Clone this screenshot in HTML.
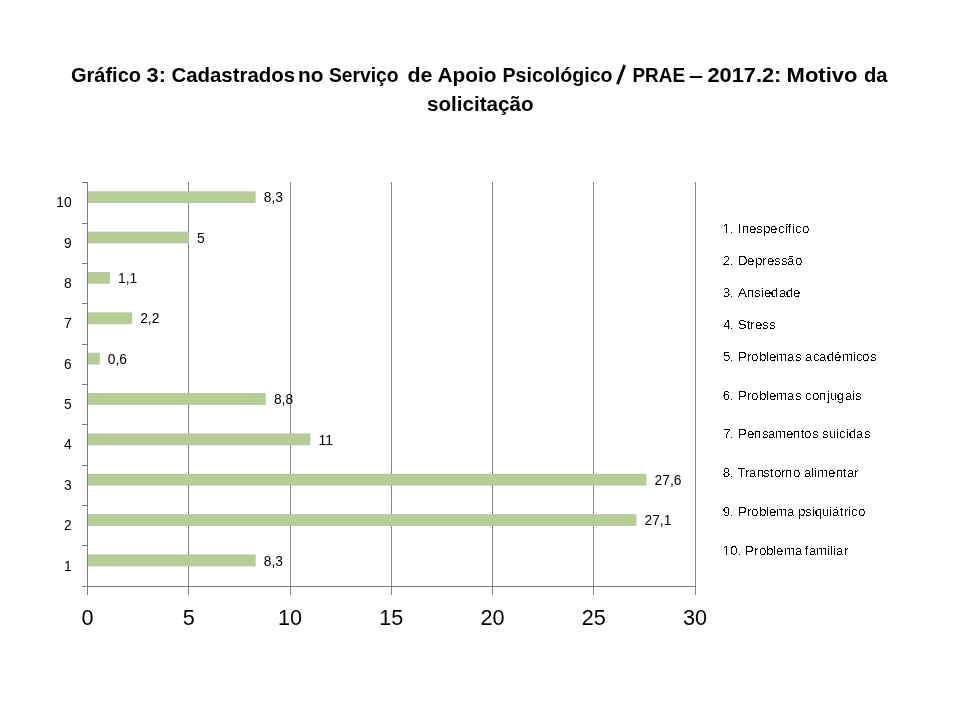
<!DOCTYPE html>
<html lang="pt">
<head>
<meta charset="utf-8">
<title>Gráfico 3</title>
<style>
html,body{margin:0;padding:0;background:#fff;}
body{width:960px;height:720px;overflow:hidden;position:relative;font-family:"Liberation Sans",sans-serif;}
svg{position:absolute;left:0;top:0;display:block;will-change:transform;}
text{font-family:"Liberation Sans",sans-serif;fill:#000;}
.t{font-weight:bold;font-size:20px;}
.yl{font-size:13.8px;text-anchor:end;}
.dl{font-size:13.8px;}
.xl{font-size:21.6px;text-anchor:middle;}
.lg{font-size:13.333px;}
</style>
</head>
<body>
<svg width="960" height="720" viewBox="0 0 960 720">

<!-- title -->
<g class="t">
<text x="71.00" y="82" textLength="70.02" lengthAdjust="spacingAndGlyphs">Gráfico</text>
<text x="146.50" y="82" textLength="19.42" lengthAdjust="spacingAndGlyphs">3:</text>
<text x="171.44" y="82" textLength="123.62" lengthAdjust="spacingAndGlyphs">Cadastrados</text>
<text x="298.04" y="82" textLength="25.50" lengthAdjust="spacingAndGlyphs">no</text>
<text x="328.96" y="82" textLength="69.62" lengthAdjust="spacingAndGlyphs">Serviço</text>
<text x="407.48" y="82" textLength="25.04" lengthAdjust="spacingAndGlyphs">de</text>
<text x="437.42" y="82" textLength="59.08" lengthAdjust="spacingAndGlyphs">Apoio</text>
<text x="502.50" y="82" textLength="110.02" lengthAdjust="spacingAndGlyphs">Psicológico</text>
<text x="632.48" y="82" textLength="52.56" lengthAdjust="spacingAndGlyphs">PRAE</text>
<text x="689.00" y="82" textLength="14.00" lengthAdjust="spacingAndGlyphs">–</text>
<text x="707.48" y="82" textLength="73.92" lengthAdjust="spacingAndGlyphs">2017.2:</text>
<text x="786.58" y="82" textLength="70.94" lengthAdjust="spacingAndGlyphs">Motivo</text>
<text x="864.00" y="82" textLength="23.60" lengthAdjust="spacingAndGlyphs">da</text>
<text x="427.00" y="111" textLength="106.50" lengthAdjust="spacingAndGlyphs">solicitação</text>
</g>
<line x1="617.5" y1="84.3" x2="624.7" y2="65.1" stroke="#000" stroke-width="2.8"/>
<!-- gridlines -->
<g stroke="#868686" stroke-width="1" shape-rendering="crispEdges">
<line x1="188.5" y1="182.0" x2="188.5" y2="595.0"/>
<line x1="290.5" y1="182.0" x2="290.5" y2="595.0"/>
<line x1="391.5" y1="182.0" x2="391.5" y2="595.0"/>
<line x1="492.5" y1="182.0" x2="492.5" y2="595.0"/>
<line x1="593.5" y1="182.0" x2="593.5" y2="595.0"/>
<line x1="695.5" y1="182.0" x2="695.5" y2="595.0"/>
</g>
<defs><linearGradient id="bg" x1="0" y1="0" x2="0" y2="1"><stop offset="0" stop-color="#b3c39f"/><stop offset="0.14" stop-color="#b9caa2"/><stop offset="0.36" stop-color="#b3d08e"/><stop offset="0.64" stop-color="#b3d08e"/><stop offset="0.86" stop-color="#b9caa2"/><stop offset="1" stop-color="#b3c39f"/></linearGradient></defs>
<!-- bars -->
<g fill="url(#bg)">
<rect x="88.00" y="191.30" width="167.68" height="11.73"/>
<rect x="88.00" y="231.66" width="100.85" height="11.73"/>
<rect x="88.00" y="272.02" width="21.88" height="11.73"/>
<rect x="88.00" y="312.38" width="44.15" height="11.73"/>
<rect x="88.00" y="352.74" width="11.75" height="11.73"/>
<rect x="88.00" y="393.10" width="177.80" height="11.73"/>
<rect x="88.00" y="433.46" width="222.35" height="11.73"/>
<rect x="88.00" y="473.82" width="558.50" height="11.73"/>
<rect x="88.00" y="514.18" width="548.38" height="11.73"/>
<rect x="88.00" y="554.54" width="167.68" height="11.73"/>
</g>
<!-- axes -->
<g stroke="#7c7c7c" stroke-width="1" shape-rendering="crispEdges">
<line x1="87.5" y1="182.0" x2="87.5" y2="595.0"/>
<line x1="82.0" y1="586.5" x2="696.0" y2="586.5"/>
<line x1="82.0" y1="182.5" x2="87.5" y2="182.5"/>
<line x1="82.0" y1="223.5" x2="87.5" y2="223.5"/>
<line x1="82.0" y1="263.5" x2="87.5" y2="263.5"/>
<line x1="82.0" y1="303.5" x2="87.5" y2="303.5"/>
<line x1="82.0" y1="344.5" x2="87.5" y2="344.5"/>
<line x1="82.0" y1="384.5" x2="87.5" y2="384.5"/>
<line x1="82.0" y1="424.5" x2="87.5" y2="424.5"/>
<line x1="82.0" y1="465.5" x2="87.5" y2="465.5"/>
<line x1="82.0" y1="505.5" x2="87.5" y2="505.5"/>
<line x1="82.0" y1="545.5" x2="87.5" y2="545.5"/>
</g>
<!-- category and data labels -->
<text class="yl" x="71.7" y="207">10</text>
<text class="dl" x="263.8" y="202">8,3</text>
<text class="yl" x="71.7" y="248">9</text>
<text class="dl" x="196.9" y="243">5</text>
<text class="yl" x="71.7" y="288">8</text>
<text class="dl" x="118.0" y="283">1,1</text>
<text class="yl" x="71.7" y="328">7</text>
<text class="dl" x="140.2" y="323">2,2</text>
<text class="yl" x="71.7" y="369">6</text>
<text class="dl" x="107.8" y="364">0,6</text>
<text class="yl" x="71.7" y="409">5</text>
<text class="dl" x="273.9" y="404">8,8</text>
<text class="yl" x="71.7" y="449">4</text>
<text class="dl" x="318.5" y="445">11</text>
<text class="yl" x="71.7" y="490">3</text>
<text class="dl" x="654.6" y="485">27,6</text>
<text class="yl" x="71.7" y="530">2</text>
<text class="dl" x="644.5" y="525">27,1</text>
<text class="yl" x="71.7" y="571">1</text>
<text class="dl" x="263.8" y="566">8,3</text>
<!-- value axis labels -->
<text class="xl" x="87.60" y="625.1">0</text>
<text class="xl" x="188.85" y="625.1">5</text>
<text class="xl" x="290.10" y="625.1">10</text>
<text class="xl" x="391.35" y="625.1">15</text>
<text class="xl" x="492.60" y="625.1">20</text>
<text class="xl" x="593.85" y="625.1">25</text>
<text class="xl" x="695.10" y="625.1">30</text>
<defs><filter id="al" x="0" y="0" width="100%" height="100%" color-interpolation-filters="sRGB"><feComponentTransfer><feFuncA type="discrete" tableValues="0 0 0 0 0 1 1 1 1 1"/></feComponentTransfer></filter></defs>
<!-- legend -->
<g class="lg" filter="url(#al)">
<text x="722.75 729.75 734 737.75 741.75 749 756 763 770 778 784.75 787.75 792 795 802" y="233.00">1. Inespecífico</text>
<text x="722.75 729.75 734 738 747 755 762 767 774 781 787 795" y="265.00">2. Depressão</text>
<text x="722.75 729.75 734 738 746.75 754 761 764 770.75 779 785.75 793" y="297.00">3. Ansiedade</text>
<text x="723.25 729.75 734 737.75 746.75 750 755 762 769" y="329.00">4. Stress</text>
<text x="723 729.75 734 737.75 747 751 759 766 769 776 787 795 802 805 813 819 826.75 834 842 853 856 862 870" y="361.00">5. Problemas acadêmicos</text>
<text x="722.75 729.75 734 737.75 747 751 759 766 769 776 787 795 802 805 812 818.75 827 830 836.75 845 852 855" y="400.00">6. Problemas conjugais</text>
<text x="723.25 729.75 734 737.75 747 753.75 762 768 775 786 792.75 800.75 804 812 818 822 829 836 839 846 848.75 856 864" y="438.00">7. Pensamentos suicidas</text>
<text x="722.75 729.75 734 737.25 745 749 756.75 763 769.75 774 781 784.75 793 800 804 811 814 817 828 835.75 842.75 847 854" y="477.00">8. Transtorno alimentar</text>
<text x="722.75 729.75 734 737.75 747 751 759 766 769 776 787 795 798 805 812 814.75 822 829 832 839.75 844 848 851 858" y="516.00">9. Problema psiquiátrico</text>
<text x="722.75 730.25 737.75 742 744.75 754 759 766 773 776 784 795 802 804.75 809 816 827 830 833 836 844" y="555.00">10. Problema familiar</text>
</g>
<g fill="#fff" shape-rendering="crispEdges"><rect x="724" y="232" width="2" height="1"/><rect x="727" y="232" width="3" height="1"/><rect x="724" y="554" width="2" height="1"/><rect x="727" y="554" width="3" height="1"/></g>
</svg>
</body>
</html>
